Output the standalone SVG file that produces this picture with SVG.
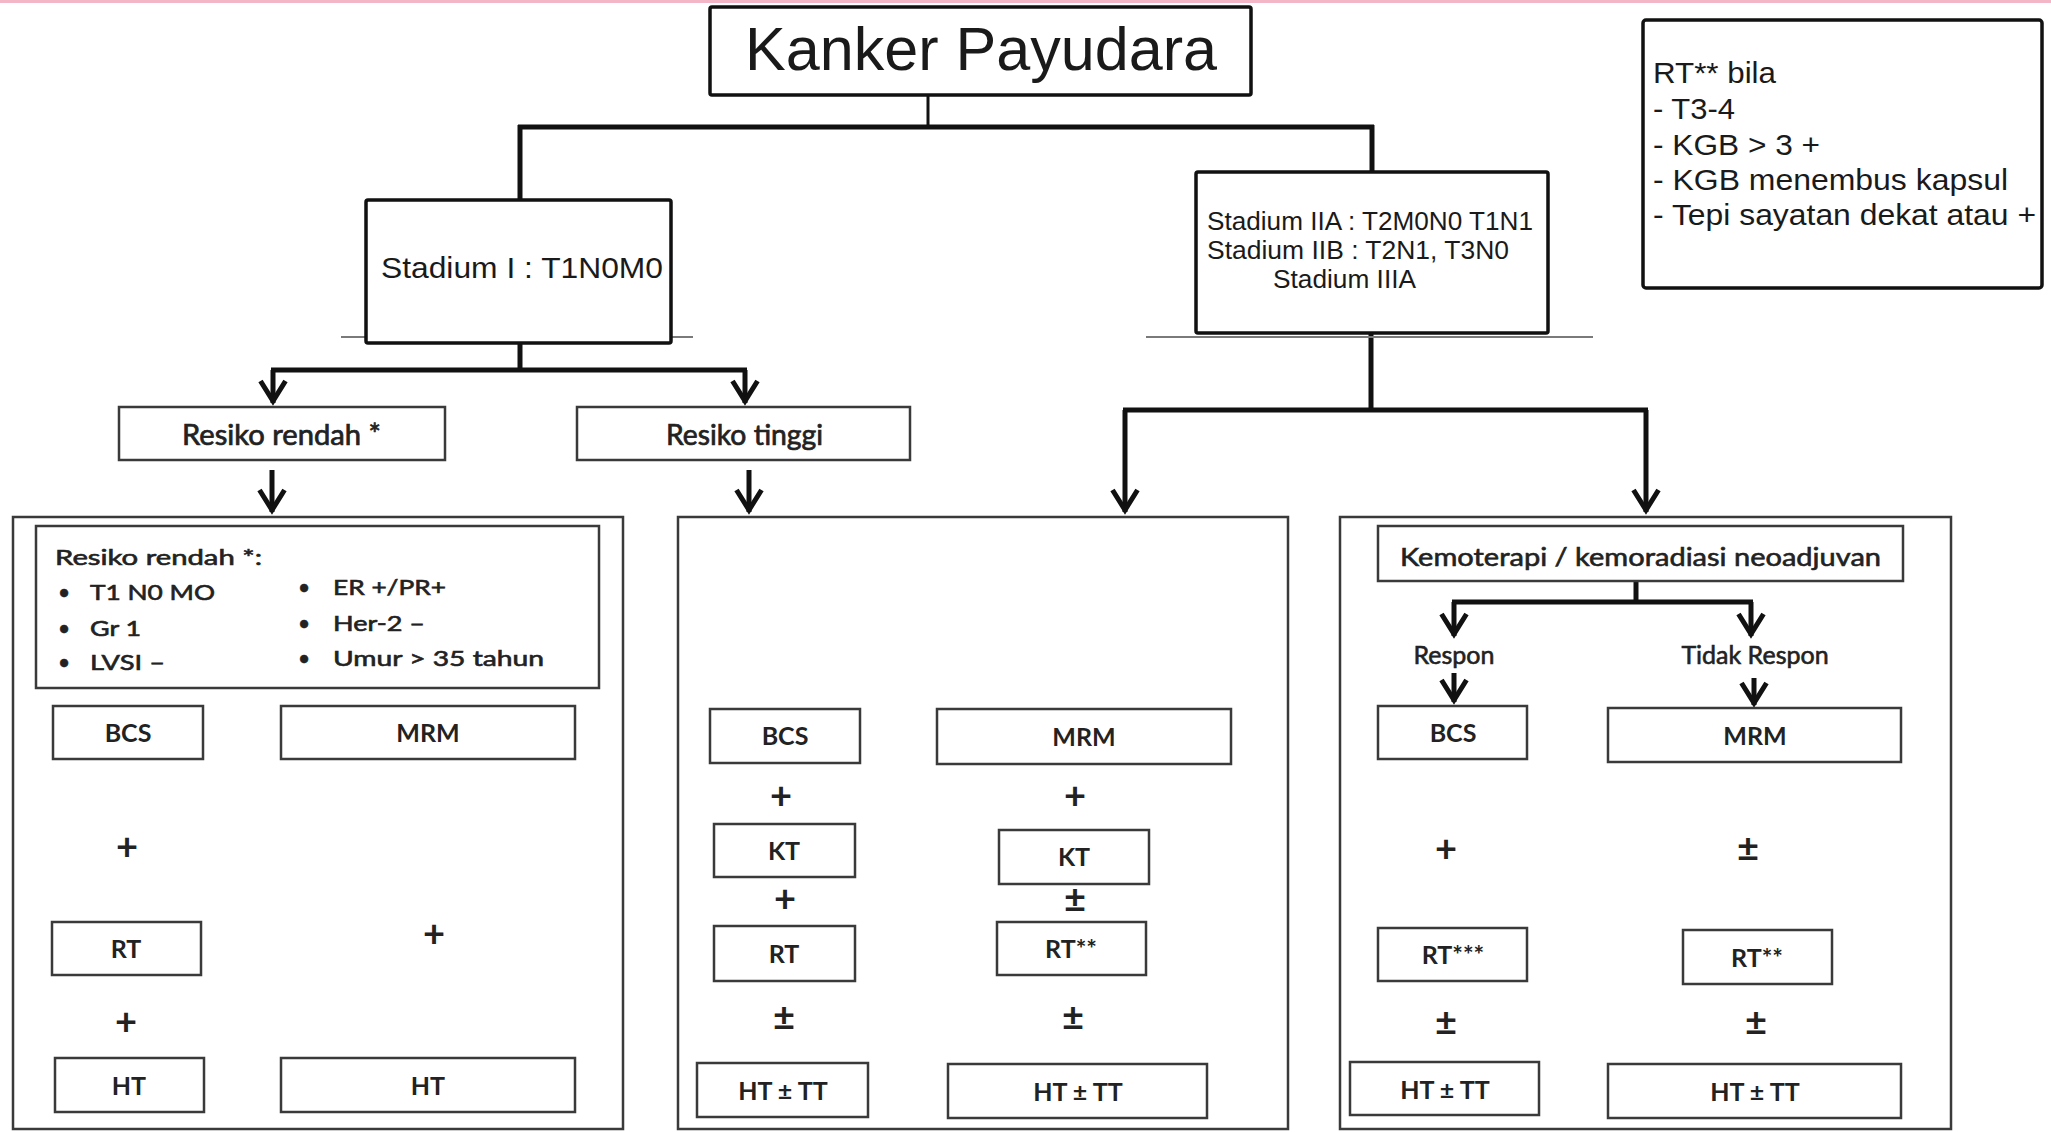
<svg xmlns="http://www.w3.org/2000/svg" width="2051" height="1132" viewBox="0 0 2051 1132">
<style>
.bg{fill:#ffffff}
.tb{fill:#fff;stroke:#111;stroke-width:3.5}
.sb{fill:#fff;stroke:#3a3a3a;stroke-width:2.5}
.bb{fill:none;stroke:#3a3a3a;stroke-width:2.5}
.c{fill:none;stroke:#111;stroke-width:5}
.cs{fill:none;stroke:#111;stroke-width:3}
.g{stroke:#7a7a7a;stroke-width:2}
.a{font-family:"Liberation Sans",Arial,sans-serif;fill:#1a1a1a}
.l{font-family:Lato,"Open Sans",sans-serif;fill:#222}
.lb{font-family:Lato,"Open Sans",sans-serif;fill:#222;font-weight:700;font-size:25px;text-anchor:middle}
.op{font-family:Lato,"Open Sans",sans-serif;fill:#222;font-weight:700;font-size:38px;text-anchor:middle}
.lab{font-size:28px;stroke:#222;stroke-width:0.7}
.lst{font-size:21px;stroke:#222;stroke-width:0.6}
.mid{font-size:25px;stroke:#222;stroke-width:0.6}
</style>
<defs>
<marker id="arr" markerUnits="userSpaceOnUse" viewBox="-28 -16 32 32" refX="0" refY="0" markerWidth="32" markerHeight="32" orient="auto">
<path d="M-22,-12.5 L-2,0 L-22,12.5" fill="none" stroke="#111" stroke-width="5"/>
</marker>
</defs>
<rect class="bg" x="0" y="0" width="2051" height="1132"/>
<rect x="0" y="0" width="2051" height="3" fill="#f2b6c6"/>

<g id="connectors">
<path class="cs" d="M928,95 V127"/>
<path class="c" d="M518,127 H1374"/>
<path class="c" d="M520,125 V200"/>
<path class="c" d="M1372,125 V172"/>
<path class="c" d="M520,343 V370"/>
<path class="c" d="M271,370 H747"/>
<path class="c" d="M273,370 V403" marker-end="url(#arr)"/>
<path class="c" d="M745,370 V403" marker-end="url(#arr)"/>
<path class="c" d="M272,470 V512" marker-end="url(#arr)"/>
<path class="c" d="M749,470 V512" marker-end="url(#arr)"/>
<path class="c" d="M1371,333 V410"/>
<path class="c" d="M1123,410 H1648"/>
<path class="c" d="M1125,410 V512" marker-end="url(#arr)"/>
<path class="c" d="M1646,410 V512" marker-end="url(#arr)"/>
<path class="c" d="M1636,581 V602"/>
<path class="c" d="M1452,602 H1753"/>
<path class="c" d="M1454,602 V636" marker-end="url(#arr)"/>
<path class="c" d="M1751,602 V636" marker-end="url(#arr)"/>
<path class="c" d="M1454,673 V702" marker-end="url(#arr)"/>
<path class="c" d="M1754,678 V705" marker-end="url(#arr)"/>
</g>

<g id="kanker">
<rect class="tb" x="710" y="7" width="541" height="88" rx="2"/>
<text class="a" x="745" y="70" font-size="62" textLength="472" lengthAdjust="spacingAndGlyphs">Kanker Payudara</text>
</g>

<g id="stadium1">
<line class="g" x1="341" y1="337" x2="693" y2="337"/>
<rect class="tb" x="366" y="200" width="305" height="143" rx="2"/>
<text class="a" x="381" y="278" font-size="30" textLength="282" lengthAdjust="spacingAndGlyphs">Stadium I : T1N0M0</text>
</g>

<g id="stadium2">
<line class="g" x1="1146" y1="337" x2="1593" y2="337"/>
<rect class="tb" x="1196" y="172" width="352" height="161" rx="2"/>
<text class="a" x="1207" y="230" font-size="26" textLength="326" lengthAdjust="spacingAndGlyphs">Stadium IIA : T2M0N0 T1N1</text>
<text class="a" x="1207" y="259" font-size="26" textLength="302" lengthAdjust="spacingAndGlyphs">Stadium IIB : T2N1, T3N0</text>
<text class="a" x="1273" y="288" font-size="26" textLength="143" lengthAdjust="spacingAndGlyphs">Stadium IIIA</text>
</g>

<g id="rt-note">
<rect class="tb" x="1643" y="20" width="399" height="268" rx="3"/>
<text class="a" x="1653" y="83" font-size="29" textLength="123" lengthAdjust="spacingAndGlyphs">RT** bila</text>
<text class="a" x="1653" y="119" font-size="29" textLength="82" lengthAdjust="spacingAndGlyphs">- T3-4</text>
<text class="a" x="1653" y="155" font-size="29" textLength="167" lengthAdjust="spacingAndGlyphs">- KGB &gt; 3 +</text>
<text class="a" x="1653" y="190" font-size="29" textLength="355" lengthAdjust="spacingAndGlyphs">- KGB menembus kapsul</text>
<text class="a" x="1653" y="225" font-size="29" textLength="383" lengthAdjust="spacingAndGlyphs">- Tepi sayatan dekat atau +</text>
</g>

<g id="resiko-rendah">
<rect class="sb" x="119" y="407" width="326" height="53"/>
<text class="l lab" x="182" y="445" textLength="199" lengthAdjust="spacingAndGlyphs">Resiko rendah *</text>
</g>

<g id="resiko-tinggi">
<rect class="sb" x="577" y="407" width="333" height="53"/>
<text class="l lab" x="666" y="445" textLength="157" lengthAdjust="spacingAndGlyphs">Resiko tinggi</text>
</g>

<g id="panel-rendah">
<rect class="bb" x="13" y="517" width="610" height="612"/>
<rect class="sb" x="36" y="526" width="563" height="162"/>
<text class="l lst" x="55" y="565" textLength="207" lengthAdjust="spacingAndGlyphs">Resiko rendah *:</text>
<text class="l lst" x="58" y="600">•</text>
<text class="l lst" x="90" y="600" textLength="125" lengthAdjust="spacingAndGlyphs">T1 N0 MO</text>
<text class="l lst" x="58" y="636">•</text>
<text class="l lst" x="90" y="636" textLength="51" lengthAdjust="spacingAndGlyphs">Gr 1</text>
<text class="l lst" x="58" y="670">•</text>
<text class="l lst" x="90" y="670" textLength="75" lengthAdjust="spacingAndGlyphs">LVSI –</text>
<text class="l lst" x="298" y="595">•</text>
<text class="l lst" x="333" y="595" textLength="113" lengthAdjust="spacingAndGlyphs">ER +/PR+</text>
<text class="l lst" x="298" y="631">•</text>
<text class="l lst" x="333" y="631" textLength="92" lengthAdjust="spacingAndGlyphs">Her-2 –</text>
<text class="l lst" x="298" y="666">•</text>
<text class="l lst" x="333" y="666" textLength="211" lengthAdjust="spacingAndGlyphs">Umur &gt; 35 tahun</text>
</g>
<g id="p1-bcs"><rect class="sb" x="53" y="706" width="150" height="53"/><text class="lb" x="128" y="742">BCS</text></g>
<g id="p1-mrm"><rect class="sb" x="281" y="706" width="294" height="53"/><text class="lb" x="428" y="742">MRM</text></g>
<g id="p1-rt"><rect class="sb" x="52" y="922" width="149" height="53"/><text class="lb" x="126" y="958">RT</text></g>
<g id="p1-ht1"><rect class="sb" x="55" y="1058" width="149" height="54"/><text class="lb" x="129" y="1095">HT</text></g>
<g id="p1-ht2"><rect class="sb" x="281" y="1058" width="294" height="54"/><text class="lb" x="428" y="1095">HT</text></g>
<g id="p1-ops">
<text class="op" x="127" y="860">+</text>
<text class="op" x="434" y="947">+</text>
<text class="op" x="126" y="1035">+</text>
</g>

<g id="panel-tinggi"><rect class="bb" x="678" y="517" width="610" height="612"/></g>
<g id="p2-bcs"><rect class="sb" x="710" y="709" width="150" height="54"/><text class="lb" x="785" y="745">BCS</text></g>
<g id="p2-mrm"><rect class="sb" x="937" y="709" width="294" height="55"/><text class="lb" x="1084" y="746">MRM</text></g>
<g id="p2-kt1"><rect class="sb" x="714" y="824" width="141" height="53"/><text class="lb" x="784" y="860">KT</text></g>
<g id="p2-kt2"><rect class="sb" x="999" y="830" width="150" height="54"/><text class="lb" x="1074" y="866">KT</text></g>
<g id="p2-rt1"><rect class="sb" x="714" y="926" width="141" height="55"/><text class="lb" x="784" y="963">RT</text></g>
<g id="p2-rt2"><rect class="sb" x="997" y="922" width="149" height="53"/><text class="lb" x="1071" y="958">RT**</text></g>
<g id="p2-ht1"><rect class="sb" x="697" y="1063" width="171" height="54"/><text class="lb" x="783" y="1100">HT ± TT</text></g>
<g id="p2-ht2"><rect class="sb" x="948" y="1064" width="259" height="54"/><text class="lb" x="1078" y="1101">HT ± TT</text></g>
<g id="p2-ops">
<text class="op" x="781" y="809">+</text>
<text class="op" x="1075" y="809">+</text>
<text class="op" x="785" y="912">+</text>
<text class="op" x="1075" y="913">±</text>
<text class="op" x="784" y="1031">±</text>
<text class="op" x="1073" y="1031">±</text>
</g>

<g id="panel-neoadjuvan"><rect class="bb" x="1340" y="517" width="611" height="612"/></g>
<g id="p3-kemo"><rect class="sb" x="1378" y="526" width="525" height="55"/><text class="l mid" x="1400" y="566" textLength="481" lengthAdjust="spacingAndGlyphs">Kemoterapi / kemoradiasi neoadjuvan</text></g>
<g id="p3-respon"><text class="l mid" x="1454" y="664" text-anchor="middle">Respon</text></g>
<g id="p3-tidak"><text class="l mid" x="1755" y="664" text-anchor="middle">Tidak Respon</text></g>
<g id="p3-bcs"><rect class="sb" x="1378" y="706" width="149" height="53"/><text class="lb" x="1453" y="742">BCS</text></g>
<g id="p3-mrm"><rect class="sb" x="1608" y="708" width="293" height="54"/><text class="lb" x="1755" y="745">MRM</text></g>
<g id="p3-rt1"><rect class="sb" x="1378" y="928" width="149" height="53"/><text class="lb" x="1453" y="964">RT***</text></g>
<g id="p3-rt2"><rect class="sb" x="1683" y="930" width="149" height="54"/><text class="lb" x="1757" y="967">RT**</text></g>
<g id="p3-ht1"><rect class="sb" x="1350" y="1062" width="189" height="53"/><text class="lb" x="1445" y="1099">HT ± TT</text></g>
<g id="p3-ht2"><rect class="sb" x="1608" y="1064" width="293" height="54"/><text class="lb" x="1755" y="1101">HT ± TT</text></g>
<g id="p3-ops">
<text class="op" x="1446" y="862">+</text>
<text class="op" x="1748" y="862">±</text>
<text class="op" x="1446" y="1036">±</text>
<text class="op" x="1756" y="1036">±</text>
</g>
</svg>
